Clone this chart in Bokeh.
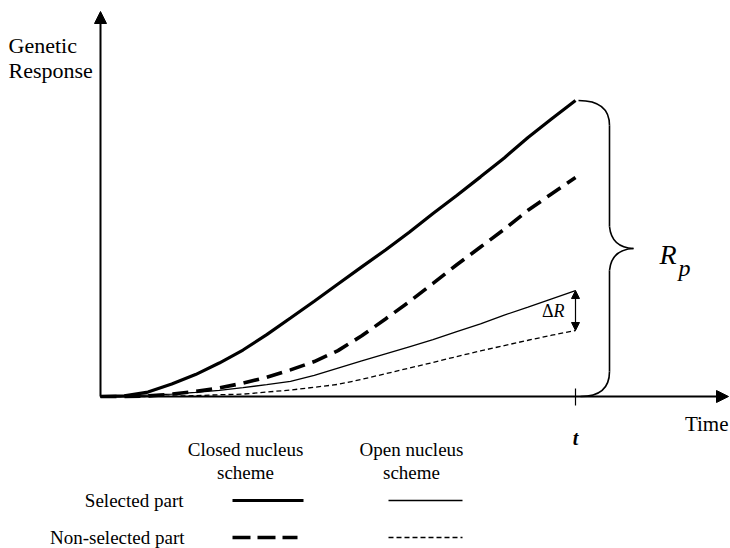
from bokeh.plotting import figure
from bokeh.models import Range1d, Arrow, NormalHead
from bokeh.core.properties import value
from bokeh.embed import file_html
from bokeh.resources import INLINE

# ---- data ----
time = [0.00, 0.05, 0.10, 0.15, 0.20, 0.25, 0.30, 0.35, 0.40, 0.45, 0.50,
        0.55, 0.60, 0.65, 0.70, 0.75, 0.80, 0.85, 0.90, 0.95, 1.00]
sel_closed = [0.000, 0.002, 0.015, 0.042, 0.074, 0.113, 0.157, 0.209, 0.265, 0.322, 0.380,
              0.438, 0.495, 0.555, 0.618, 0.679, 0.742, 0.806, 0.875, 0.938, 1.000]
non_closed = [0.000, 0.000, 0.002, 0.008, 0.017, 0.029, 0.045, 0.065, 0.090, 0.118, 0.155,
              0.205, 0.262, 0.320, 0.382, 0.445, 0.505, 0.565, 0.629, 0.685, 0.740]
sel_open = [0.000, 0.003, 0.005, 0.008, 0.014, 0.021, 0.030, 0.040, 0.051, 0.071, 0.096,
            0.120, 0.144, 0.168, 0.192, 0.219, 0.245, 0.275, 0.302, 0.330, 0.358]
non_open = [0.000, 0.000, 0.000, 0.001, 0.003, 0.006, 0.008, 0.015, 0.022, 0.031, 0.041,
            0.058, 0.077, 0.096, 0.115, 0.135, 0.154, 0.172, 0.190, 0.207, 0.223]

y_label = ["Genetic", "Response"]
x_label = "Time"
t_label = "t"
col_heads = [["Closed nucleus", "scheme"], ["Open nucleus", "scheme"]]
row_heads = ["Selected part", "Non-selected part"]

FONT = value("Liberation Serif")

# pixel -> data scales (origin at page pixel (100, 396))
OX, OY = 100, 396
SX, SY = 475.0, 296.0
W, H = 730, 548


def dx(px):
    return (px - OX) / SX


def dy(py):
    return (OY - py) / SY


p = figure(width=W, height=H, output_backend="svg", toolbar_location=None,
           x_range=Range1d(dx(0), dx(W)), y_range=Range1d(dy(H), dy(0)),
           x_axis_location=None, y_axis_location=None, min_border=0)
p.grid.visible = False
p.outline_line_color = None

# ---- axes with arrows ----
p.add_layout(Arrow(end=NormalHead(size=12, fill_color="black", line_color="black"),
                   x_start=0, y_start=0, x_end=0, y_end=dy(11), line_width=2))
p.add_layout(Arrow(end=NormalHead(size=12, fill_color="black", line_color="black"),
                   x_start=0, y_start=0, x_end=dx(728), y_end=0, line_width=2))

# tick at t
t_end = time[-1]
p.segment(x0=[t_end], y0=[dy(388)], x1=[t_end], y1=[dy(405)], line_color="black", line_width=1.2)

# ---- curves ----
p.line(time, sel_closed, line_color="black", line_width=3.2)
p.line(time, non_closed, line_color="black", line_width=3.6, line_dash="16 8")
p.line(time, sel_open, line_color="black", line_width=1.3)
p.line(time, non_open, line_color="black", line_width=1.3, line_dash="5 3")

# ---- delta R double arrow ----
p.add_layout(Arrow(start=NormalHead(size=8, fill_color="black", line_color="black"),
                   end=NormalHead(size=8, fill_color="black", line_color="black"),
                   x_start=t_end, y_start=non_open[-1], x_end=t_end, y_end=sel_open[-1],
                   line_width=1.2))
dr_y = (non_open[-1] + sel_open[-1]) / 2
p.text(x=[dx(553)], y=[dr_y], text=["Δ"], text_font=FONT, text_font_size="18px",
       text_align="right", text_baseline="middle")
p.text(x=[dx(553)], y=[dr_y], text=["R"], text_font=FONT, text_font_size="18px",
       text_font_style="italic", text_align="left", text_baseline="middle")

# ---- brace for R_p ----
top = sel_closed[-1]
bot = 0.0
mid = (top + bot) / 2
bx = t_end + 34 / SX
tipx = t_end + 58 / SX
r = 25 / SY
p.quadratic(x0=[t_end + 3 / SX, bx, tipx, bx], y0=[top, mid + 22 / SY, mid, bot + r],
            x1=[bx, tipx, bx, t_end + 5 / SX], y1=[top - r, mid, mid - 22 / SY, bot],
            cx=[bx, bx + 2 / SX, bx + 2 / SX, bx], cy=[top, mid + 1 / SY, mid - 1 / SY, bot],
            line_color="black", line_width=1.6)
p.segment(x0=[bx, bx], y0=[top - r, mid - 22 / SY], x1=[bx, bx], y1=[mid + 22 / SY, bot + r],
          line_color="black", line_width=1.6)
p.text(x=[dx(659)], y=[mid - 6 / SY], text=["R"], text_font=FONT, text_font_size="28px",
       text_font_style="italic", text_align="left", text_baseline="middle")
p.text(x=[dx(678)], y=[mid - 19 / SY], text=["p"], text_font=FONT, text_font_size="24px",
       text_font_style="italic", text_align="left", text_baseline="middle")

# ---- axis labels ----
p.text(x=[dx(8), dx(8)], y=[dy(45), dy(70)], text=y_label, text_font=FONT,
       text_font_size="22px", text_align="left", text_baseline="middle")
p.text(x=[dx(728)], y=[dy(423)], text=[x_label], text_font=FONT,
       text_font_size="21px", text_align="right", text_baseline="middle")
p.text(x=[t_end], y=[dy(437)], text=[t_label], text_font=FONT,
       text_font_size="20px", text_font_style="bold italic", text_align="center",
       text_baseline="middle")

# ---- legend table ----
col_x = [dx(245), dx(411)]
for cx_, heads in zip(col_x, col_heads):
    p.text(x=[cx_, cx_], y=[dy(449), dy(472)], text=heads, text_font=FONT,
           text_font_size="19px", text_align="center", text_baseline="middle")
p.text(x=[dx(183), dx(184)], y=[dy(500), dy(537)], text=row_heads, text_font=FONT,
       text_font_size="19px", text_align="right", text_baseline="middle")

p.line([dx(232), dx(303)], [dy(500), dy(500)], line_color="black", line_width=3.2)
p.line([dx(388), dx(462)], [dy(500), dy(500)], line_color="black", line_width=1.3)
p.line([dx(232), dx(297)], [dy(537), dy(537)], line_color="black", line_width=3.6, line_dash="18 7")
p.line([dx(388), dx(462)], [dy(537), dy(537)], line_color="black", line_width=1.3, line_dash="5 3")

open("out.html", "w").write(file_html(p, INLINE))
